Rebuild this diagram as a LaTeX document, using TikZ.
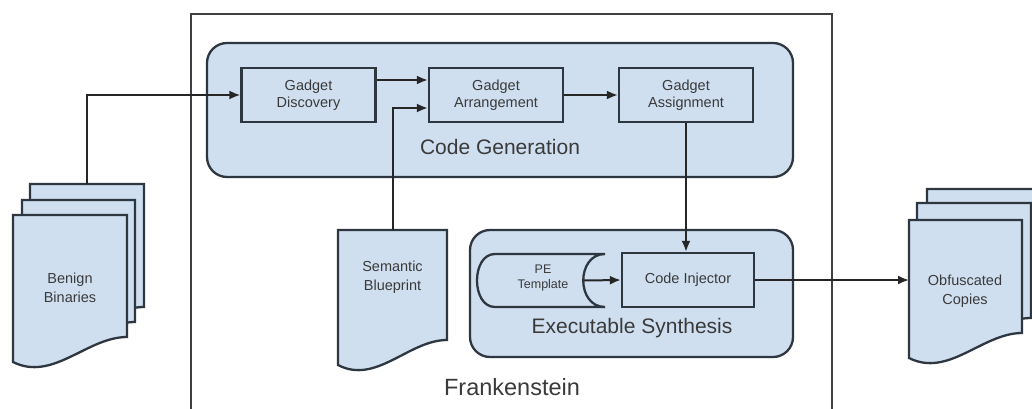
\documentclass[tikz,border=0pt]{standalone}
\usepackage{fontspec}
\setmainfont{Liberation Sans}
\usetikzlibrary{arrows.meta,calc}
\definecolor{fillb}{HTML}{CFDFF0}
\definecolor{edge}{HTML}{2E3640}
\definecolor{txt}{HTML}{3A3A3A}
\tikzset{
 box/.style={draw=edge, line width=2.3pt, fill=fillb, minimum width=134pt, minimum height=54pt, inner sep=0pt, align=center, font=\fontsize{14.5}{17}\selectfont, text=txt},
 group/.style={draw=edge, line width=2.3pt, fill=fillb, rounded corners=20pt},
 doc/.style={draw=edge, line width=2.3pt, fill=fillb, line join=miter},
 lbl/.style={text=txt, align=center},
 small/.style={font=\fontsize{14.5}{18.5}\selectfont},
 big/.style={font=\fontsize{21}{23}\selectfont},
 arr/.style={draw=black!85, line width=2pt, -{Latex[length=11pt,width=9pt]}},
 frame/.style={draw=black!75, line width=1.6pt}
}
\newcommand\docpath[4]{\path[doc] (#1,#3) -- (#2,#3) -- (#2,#4) .. controls ({#2-0.35*(#2-#1)},#4) and ({#1+0.35*(#2-#1)},{#4+45}) .. (#1,{#4+25}) -- cycle;}
\begin{document}
\begin{tikzpicture}[x=1pt,y=-1pt]
\useasboundingbox (0,0) rectangle (1032,409);
\clip (0,0) rectangle (1032,409);
\fill[white] (0,0) rectangle (1032,409);
% Frankenstein frame
\draw[frame] (191,420) -- (191,14) -- (832,14) -- (832,420);
% groups
\path[group] (207,43) rectangle (793,177);
\path[group] (470,230) rectangle (793,357);
% code generation boxes
\node[box] (disc) at (308.5,95) {Gadget\\Discovery};
\node[box] (arrg) at (496,95) {Gadget\\Arrangement};
\node[box] (asg) at (686,95) {Gadget\\Assignment};
\node[lbl, big] (cg) at (500,147) {Code Generation};
% executable synthesis
\node[box, minimum width=132pt] (inj) at (688,280) {Code Injector};
\path[doc] (605,254) -- (495,254) .. controls (471,254) and (471,307) .. (495,307) -- (605,307) .. controls (576,307) and (576,254) .. (605,254) -- cycle;
\node[lbl, font=\fontsize{12.5}{15}\selectfont] (pe) at (543,278) {PE\\Template};
\coordinate (petip) at (584,280.5);
\node[lbl, big] (es) at (632,328) {Executable Synthesis};
\node[lbl, font=\fontsize{23.5}{26}\selectfont] (fr) at (512,387) {Frankenstein};
% semantic blueprint
\docpath{338}{447}{230}{340}
\node[lbl, small] (sb) at (392.5,277) {Semantic\\Blueprint};
\coordinate (sbtop) at (392.5,230);
% benign binaries
\docpath{30}{144}{184}{307}
\docpath{22}{135}{200}{322}
\docpath{13}{127}{215}{337}
\node[lbl, small] (bb) at (70,288) {Benign\\Binaries};
\coordinate (bbtop) at (87,184);
% obfuscated copies
\docpath{927}{1042}{189}{303}
\docpath{917}{1031}{203}{318}
\docpath{909}{1022}{220}{333}
\node[lbl, small] (oc) at (965,291) {Obfuscated\\Copies};
\coordinate (oleft) at (909,280);
% connectors
\draw[arr] (bbtop) |- (disc.west);
\draw[arr] ([yshift=15pt]disc.east) -- ([yshift=15pt]arrg.west);
\draw[arr] (sbtop) |- ([yshift=-13pt]arrg.west);
\draw[arr] (arrg.east) -- (asg.west);
\draw[arr] (asg.south) -- (asg.south |- inj.north);
\draw[arr] (petip) -- (inj.west);
\draw[arr] (inj.east) -- (inj.east -| oleft);
\end{tikzpicture}
\end{document}
